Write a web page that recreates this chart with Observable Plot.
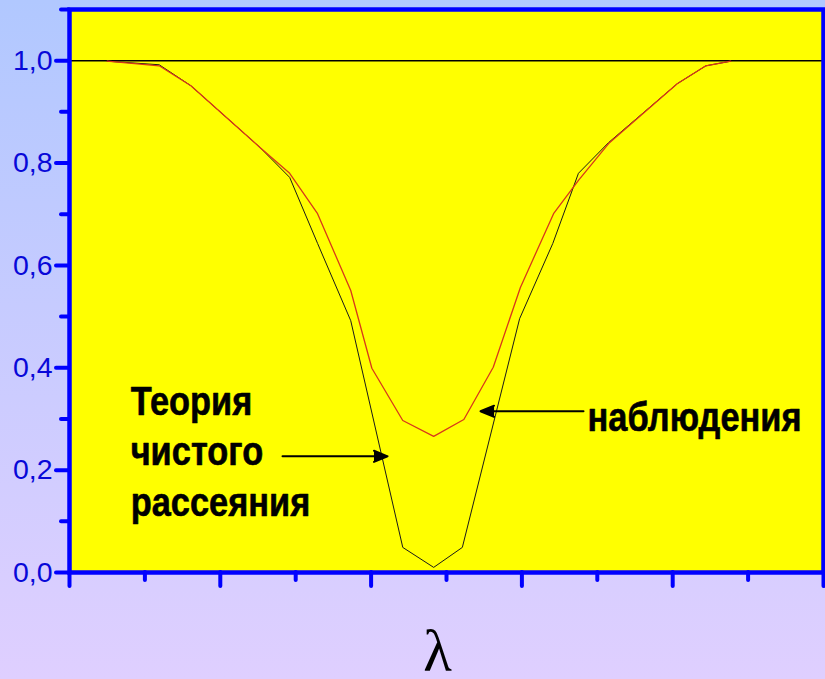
<!DOCTYPE html>
<html>
<head>
<meta charset="utf-8">
<script src="https://cdn.jsdelivr.net/npm/d3@7"></script>
<script src="https://cdn.jsdelivr.net/npm/@observablehq/plot@0.6"></script>
<style>
  html, body { margin: 0; padding: 0; overflow: hidden; }
  body { width: 825px; height: 679px; }
</style>
</head>
<body>
<div id="chart"></div>
<script>
// ---- data ----
const theoryX = [0.50, 1.19, 1.61, 2.53, 2.92, 3.29, 3.73, 4.42, 4.83, 5.21, 5.97, 6.41, 6.75, 7.15, 8.06, 8.44, 8.77];
const theoryY = [0.999, 0.992, 0.951, 0.830, 0.772, 0.643, 0.492, 0.049, 0.010, 0.049, 0.496, 0.643, 0.780, 0.840, 0.955, 0.990, 0.999];
const obsX = [0.50, 1.19, 1.61, 2.53, 2.92, 3.29, 3.73, 4.01, 4.42, 4.83, 5.23, 5.62, 5.98, 6.42, 6.75, 7.15, 8.06, 8.44, 8.77];
const obsY = [0.999, 0.990, 0.951, 0.830, 0.780, 0.701, 0.551, 0.399, 0.297, 0.266, 0.299, 0.401, 0.557, 0.701, 0.766, 0.838, 0.955, 0.990, 0.999];
const referenceLevel = [1.0];

const yMajorTicks = [0, 0.2, 0.4, 0.6, 0.8, 1.0];
const yMinorTicks = [0.1, 0.3, 0.5, 0.7, 0.9, 1.1];
const yTickLabels = ["0,0", "0,2", "0,4", "0,6", "0,8", "1,0"];
const xMajorTicks = [0, 2, 4, 6, 8, 10];
const xMinorTicks = [1, 3, 5, 7, 9];
const xAxisTitle = "λ";

const noteText = ["Теория\nчистого\nрассеяния", "наблюдения"];
const noteX = [0.81, 6.87];
const noteY = [0.378, 0.347];
const arrowX1 = [2.825, 6.817];
const arrowX2 = [4.218, 5.451];
const arrowY = [0.227, 0.315];

// ---- tables built from the arrays ----
const theory = theoryX.map((x, i) => ({x, y: theoryY[i]}));
const observed = obsX.map((x, i) => ({x, y: obsY[i]}));
const notes = noteText.map((t, i) => ({t, x: noteX[i], y: noteY[i]}));
const arrows = arrowX1.map((x1, i) => ({x1, x2: arrowX2[i], y: arrowY[i]}));

const blue = "#0000ff";

const chart = Plot.plot({
  width: 825,
  height: 679,
  marginLeft: 69,
  marginRight: 2,
  marginTop: 9,
  marginBottom: 107,
  style: {
    background: "linear-gradient(to bottom, #b1c8ff 0%, #c6cbff 45%, #dfcfff 100%)",
    fontFamily: "'Liberation Sans', Arial, sans-serif",
    overflow: "visible"
  },
  x: {domain: [0, 10], axis: null, label: null},
  y: {domain: [0, 1.1], axis: null, label: null},
  marks: [
    Plot.frame({fill: "#ffff00", stroke: null}),
    Plot.ruleY(referenceLevel, {stroke: "#000", strokeWidth: 1.5}),
    Plot.line(theory, {x: "x", y: "y", stroke: "#1a1a1a", strokeWidth: 1}),
    Plot.line(observed, {x: "x", y: "y", stroke: "#d8381a", strokeWidth: 1.3}),
    Plot.text(notes, {x: "x", y: "y", text: "t", textAnchor: "start", lineAnchor: "top",
      lineHeight: 1.26, fontSize: 40, fontWeight: "bold", fontFamily: "'Liberation Sans', Arial, sans-serif",
      fill: "#000", stroke: "#000", strokeWidth: 0.6, className: "note"}),
    Plot.arrow(arrows, {x1: "x1", x2: "x2", y1: "y", y2: "y", stroke: "#000", fill: "#000",
      strokeWidth: 2, headLength: 11, headAngle: 45}),
    Plot.frame({stroke: blue, strokeWidth: 4.5, fill: null}),
    Plot.axisY(yMajorTicks, {anchor: "left", tickSize: 13, tickPadding: 4, strokeWidth: 4,
      color: blue, fill: "#0808d8", fontSize: 28.5, tickFormat: (d, i) => yTickLabels[i], strokeLinecap: "round"}),
    Plot.axisY(yMinorTicks, {anchor: "left", tickSize: 8, strokeWidth: 4, color: blue,
      tickFormat: () => "", strokeLinecap: "round"}),
    Plot.axisX(xMajorTicks, {anchor: "bottom", tickSize: 14, strokeWidth: 4, color: blue,
      tickFormat: () => "", strokeLinecap: "round"}),
    Plot.axisX(xMinorTicks, {anchor: "bottom", tickSize: 8, strokeWidth: 4, color: blue,
      tickFormat: () => "", strokeLinecap: "round"}),
    Plot.text([xAxisTitle], {frameAnchor: "bottom", lineAnchor: "top", dx: -9, dy: 57,
      fontSize: 59, fontFamily: "'Liberation Serif', 'Times New Roman', serif", fill: "#000"})
  ]
});
document.getElementById("chart").appendChild(chart);

// condense the bold annotation text horizontally (Arial Narrow look)
const svgLeft = chart.getBoundingClientRect().left;
chart.querySelectorAll(".note text").forEach(t => {
  const x0 = t.getBoundingClientRect().left - svgLeft;
  const g = document.createElementNS("http://www.w3.org/2000/svg", "g");
  t.parentNode.insertBefore(g, t);
  g.appendChild(t);
  g.setAttribute("transform", `translate(${x0},0) scale(0.86,1) translate(${-x0},0)`);
});
</script>
</body>
</html>
